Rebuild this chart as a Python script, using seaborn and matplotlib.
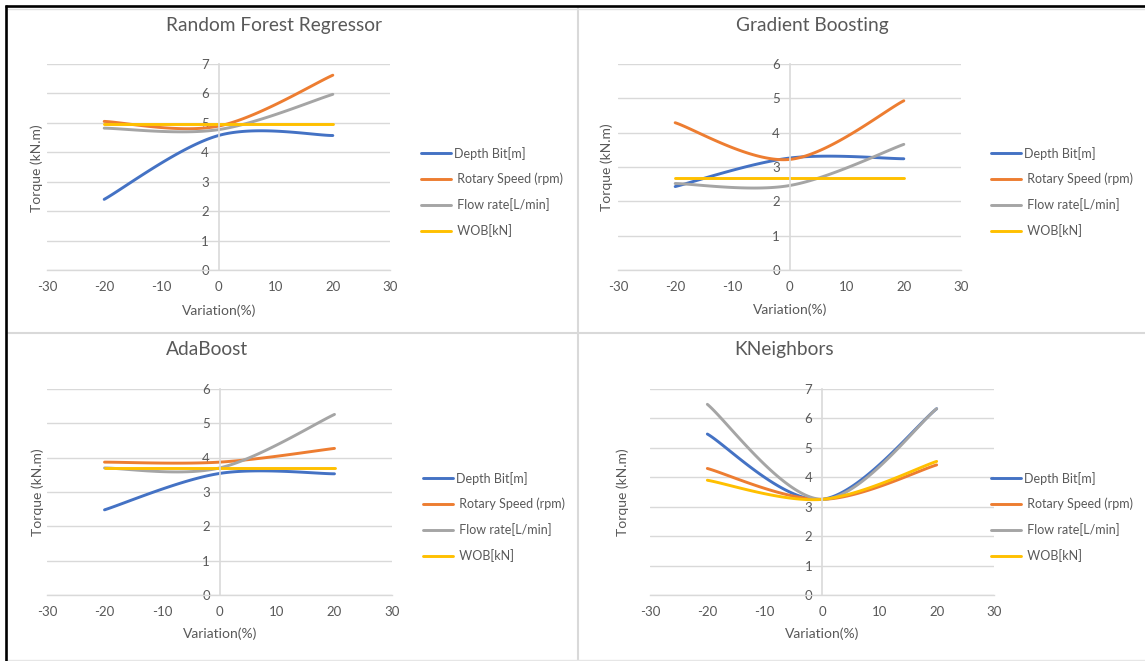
import numpy as np
import pandas as pd
import matplotlib
matplotlib.use("Agg")
import matplotlib.pyplot as plt
from matplotlib.lines import Line2D
import seaborn as sns

# ---------------------------------------------------------------- data
variation = [-20, 0, 20]
series_names = ["Depth Bit[m]", " Rotary Speed (rpm)", " Flow rate[L/min]", " WOB[kN]"]
palette = ["#4472C4", "#ED7D31", "#A5A5A5", "#FFC000"]

rf_depth = [2.40, 4.57, 4.57]
rf_rotary = [5.05, 4.89, 6.62]
rf_flow = [4.82, 4.77, 5.97]
rf_wob = [4.97, 4.97, 4.97]

gb_depth = [2.43, 3.26, 3.24]
gb_rotary = [4.29, 3.22, 4.93]
gb_flow = [2.52, 2.46, 3.66]
gb_wob = [2.69, 2.69, 2.69]

ada_depth = [2.48, 3.54, 3.53]
ada_rotary = [3.87, 3.87, 4.27]
ada_flow = [3.70, 3.70, 5.26]
ada_wob = [3.69, 3.69, 3.69]

kn_depth = [5.47, 3.25, 6.33]
kn_rotary = [4.30, 3.25, 4.42]
kn_flow = [6.48, 3.25, 6.33]
kn_wob = [3.90, 3.25, 4.54]

titles = ["Random Forest Regressor", "Gradient Boosting", "AdaBoost", "KNeighbors"]
panel_series = [
    [rf_depth, rf_rotary, rf_flow, rf_wob],
    [gb_depth, gb_rotary, gb_flow, gb_wob],
    [ada_depth, ada_rotary, ada_flow, ada_wob],
    [kn_depth, kn_rotary, kn_flow, kn_wob],
]
y_max = [7, 6, 6, 7]
x_ticks = [-30, -20, -10, 0, 10, 20, 30]

# ---------------------------------------------------------------- helpers
W, H = 1145, 661
GRID = "#d9d9d9"
TEXT = "#595959"


def smooth(xs, ys, n=60):
    """Spreadsheet-style smoothed line: cubic Bezier segments through the points."""
    p = np.column_stack([xs, ys]).astype(float)
    ext = np.vstack([p[0], p, p[-1]])
    t = np.linspace(0, 1, n)[:, None]
    out = []
    for i in range(len(p) - 1):
        p0, p3 = ext[i + 1], ext[i + 2]
        c1 = p0 + (ext[i + 2] - ext[i]) / 6.0
        c2 = p3 - (ext[i + 3] - ext[i + 1]) / 6.0
        seg = ((1 - t) ** 3) * p0 + 3 * ((1 - t) ** 2) * t * c1 + 3 * (1 - t) * t ** 2 * c2 + t ** 3 * p3
        out.append(seg if i == 0 else seg[1:])
    s = np.vstack(out)
    return s[:, 0], s[:, 1]


def fx(px):
    return px / W


def fy(py):
    return 1 - py / H


# pixel geometry of each plot area: left, right, top, bottom
boxes = [(47, 390, 64, 270), (618, 961, 64, 270), (47, 392, 389, 595), (650, 994, 389, 595)]
title_pos = [(274, 26), (812, 25), (207, 350), (784, 350)]
ylabel_pos = [(37, 168), (607, 167), (38, 492), (623, 492)]
xlabel_pos = [(219, 311), (790, 310), (220, 634), (822, 634)]
legend_pos = [(421, 192), (991, 192), (423, 517), (991, 517)]

# ---------------------------------------------------------------- figure
sns.set_theme(style="white")
plt.rcParams["font.family"] = ["Lato", "DejaVu Sans"]

fig = plt.figure(figsize=(W / 100, H / 100), dpi=100)
fig.patch.set_facecolor("white")

for k in range(4):
    l, r, t, b = boxes[k]
    ax = fig.add_axes([fx(l), fy(b), (r - l) / W, (b - t) / H])
    frames = []
    for name, vals in zip(series_names, panel_series[k]):
        sx, sy = smooth(variation, vals)
        frames.append(pd.DataFrame({"x": sx, "y": sy, "series": name}))
    df = pd.concat(frames, ignore_index=True)
    sns.lineplot(data=df, x="x", y="y", hue="series", hue_order=series_names,
                 palette=palette, sort=False, estimator=None, linewidth=2.1, ax=ax)

    ax.set_xlim(-30, 30)
    ax.set_ylim(0, y_max[k])
    ax.set_xticks(x_ticks)
    ax.set_xticklabels([str(v) for v in x_ticks])
    ax.set_yticks(range(0, y_max[k] + 1))
    ax.yaxis.grid(True, color=GRID, linewidth=1.0)
    ax.xaxis.grid(False)
    ax.set_axisbelow(True)
    for side in ["top", "right"]:
        ax.spines[side].set_visible(False)
    ax.spines["left"].set_position(("data", 0))
    ax.spines["left"].set_color(GRID)
    ax.spines["left"].set_linewidth(1.2)
    ax.spines["bottom"].set_color(GRID)
    ax.spines["bottom"].set_linewidth(1.0)
    ax.tick_params(axis="both", length=0, labelsize=9.5, labelcolor=TEXT)
    ax.tick_params(axis="y", pad=7)
    ax.tick_params(axis="x", pad=8)

    ax.set_xlabel("Variation(%)", fontsize=10, color=TEXT, va="center")
    ax.xaxis.set_label_coords(fx(xlabel_pos[k][0]), fy(xlabel_pos[k][1]), transform=fig.transFigure)
    ax.set_ylabel("Torque (kN.m)", fontsize=10, color=TEXT, va="center")
    ax.yaxis.set_label_coords(fx(ylabel_pos[k][0]), fy(ylabel_pos[k][1]), transform=fig.transFigure)

    fig.text(fx(title_pos[k][0]), fy(title_pos[k][1]), titles[k], fontsize=13.8,
             color=TEXT, ha="center", va="center")

    handles = [Line2D([], [], color=c, linewidth=2.1) for c in palette]
    ax.legend(handles, series_names, loc="center left",
              bbox_to_anchor=(fx(legend_pos[k][0]), fy(legend_pos[k][1])),
              bbox_transform=fig.transFigure, frameon=False, fontsize=9,
              labelcolor=TEXT, handlelength=2.4, handletextpad=0.25,
              labelspacing=1.05, borderpad=0, borderaxespad=0)

# panel dividers and outer frame
fig.add_artist(Line2D([fx(578), fx(578)], [fy(8), fy(661)], color=GRID, linewidth=1.5))
fig.add_artist(Line2D([fx(8), fx(1145)], [fy(333), fy(333)], color=GRID, linewidth=1.5))
fig.add_artist(Line2D([fx(8), fx(1145)], [fy(659.5), fy(659.5)], color="#e6e6e6", linewidth=1.0))
fig.add_artist(Line2D([fx(8), fx(1145)], [fy(8.5), fy(8.5)], color="#e0e0e0", linewidth=1.0))
fig.add_artist(Line2D([fx(5), fx(1145)], [fy(6.2), fy(6.2)], color="black", linewidth=1.9,
                      solid_capstyle="butt"))
fig.add_artist(Line2D([fx(6.2), fx(6.2)], [fy(5), fy(661)], color="black", linewidth=1.9,
                      solid_capstyle="butt"))

fig.savefig("out.png", dpi=100, facecolor="white")
